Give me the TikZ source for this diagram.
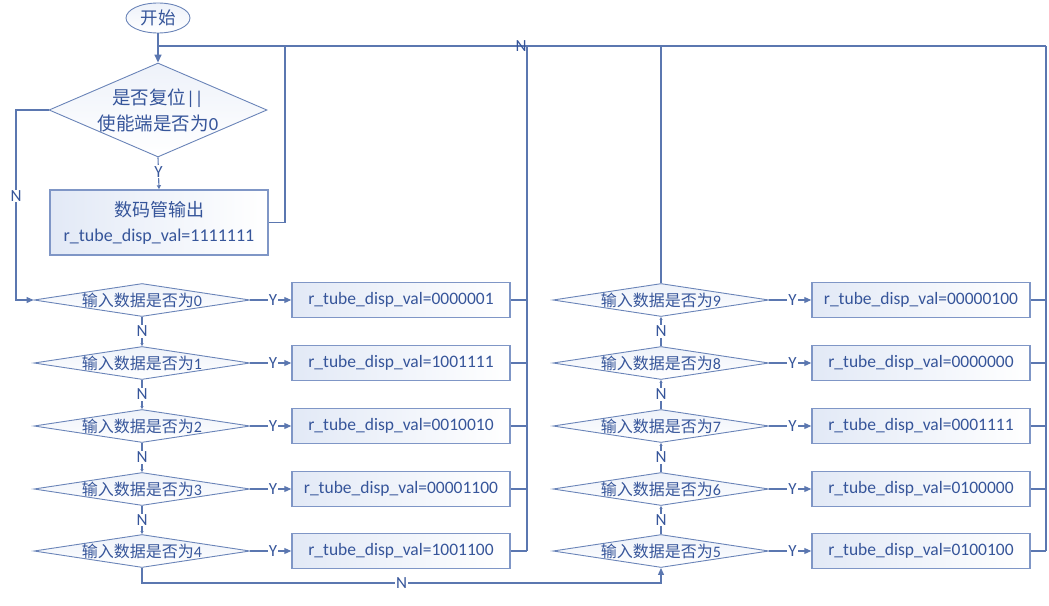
\documentclass[tikz,border=0pt]{standalone}
\usepackage{fontspec}
\setmainfont{Carlito}
\newfontfamily\cjk{Noto Sans CJK SC}
\usetikzlibrary{shapes.geometric,arrows.meta}
\definecolor{lc}{HTML}{5B77B0}
\definecolor{tc}{HTML}{36559A}
\definecolor{ac}{HTML}{4472C4}
\definecolor{bc}{HTML}{7F96C6}
\definecolor{dc}{HTML}{6A84B8}
\definecolor{fillb}{HTML}{E2E9F6}
\begin{document}
\begin{tikzpicture}[x=1pt,y=-1pt,
  conn/.style={draw=lc, line width=1.1},
  arr/.style={conn, -{Triangle[length=7,width=6]}, draw=lc},
  sarr/.style={conn, -{Triangle[length=3,width=3]}},
  lab/.style={fill=white, text=tc, inner sep=1, font=\fontsize{17}{19}\selectfont},
  sdia/.style={diamond, draw=dc, line width=0.9, minimum width=216, minimum height=33, inner sep=0,
     top color=fillb!60, bottom color=white},
  dtext/.style={text=tc, font=\fontsize{16}{18}\selectfont},
  vbox/.style={draw=bc, line width=1.5, minimum width=218, minimum height=35, inner sep=0,
     left color=fillb, right color=white, text=tc, font=\fontsize{17.5}{21}\selectfont},
]
\useasboundingbox (0,0) rectangle (1049,605);

% start
\node[ellipse, draw=dc, line width=0.9, minimum width=64, minimum height=30, inner sep=0,
  top color=fillb!60, bottom color=white, text=tc, font=\fontsize{17.5}{20}\selectfont]
  (start) at (158,18) {\cjk 开始};

% first decision
\node[diamond, draw=dc, line width=0.9, minimum width=218, minimum height=94, inner sep=0,
  top color=fillb!60, bottom color=white,
  label={[text=tc, align=center, font=\fontsize{18.5}{26}\selectfont]center:{{\cjk 是否复位}||\\{\cjk 使能端是否为}0}}]
  (d0) at (158,110) {};

\node[vbox, minimum height=65, align=center, font=\fontsize{18}{25}\selectfont] (b0) at (159,222.5)
  {{\cjk 数码管输出}\\r\_tube\_disp\_val=1111111};

\coordinate (ltop) at (285,46);
\coordinate (mtop) at (527,46);
\coordinate (rtop) at (1046,46);
\coordinate (jn) at (158,46);
\coordinate (lft) at (16,110);

% left column
\foreach \i/\y/\v in {0/300/0000001,1/363/1001111,2/426/0010010,3/489/00001100,4/551/1001100}{
  \node[sdia, label={[dtext]center:{\cjk 输入数据是否为}\i}] (dL\i) at (142,\y) {};
  \node[vbox] (bL\i) at (401,\y) {r\_tube\_disp\_val=\v};
}
% right column
\foreach \i/\y/\v in {9/300/00000100,8/363/0000000,7/426/0001111,6/489/0100000,5/551/0100100}{
  \node[sdia, label={[dtext]center:{\cjk 输入数据是否为}\i}] (dR\i) at (661,\y) {};
  \node[vbox] (bR\i) at (921,\y) {r\_tube\_disp\_val=\v};
}

% top part
\draw[conn, line width=1.5, -{Triangle[length=8,width=7]}, draw=lc] (start) -- (d0.north);
\draw[conn, line width=1.4] (rtop) -- (jn);
\draw[sarr, -{Triangle[length=4,width=4]}] (d0.south) -- node[lab, pos=0.45]{Y} (b0.north);
\draw[conn] (b0.east) -| (ltop);
\draw[arr] (d0.west) -| (lft |- dL0.west) -- (dL0.west);
\node[lab] (nl) at (16,196) {N};

% Y branches
\foreach \i in {0,1,2,3,4}{
  \draw[arr] (dL\i.east) -- node[lab, pos=0.55]{Y} (bL\i.west);
  \draw[conn] (bL\i.east) -- (bL\i.east -| mtop);
}
\foreach \i in {5,6,7,8,9}{
  \draw[arr] (dR\i.east) -- node[lab, pos=0.55]{Y} (bR\i.west);
  \draw[conn] (bR\i.east) -- (bR\i.east -| rtop);
}
\draw[conn, line width=1.6] (bL4.east -| mtop) -- (mtop);
\draw[conn, line width=1.4] (bR5.east -| rtop) -- (rtop);
\node[lab, fill=none] (ntop) at (521,46) {N};

% N chains
\foreach \a/\b in {0/1,1/2,2/3,3/4}{
  \draw[sarr] (dL\a.south) -- node[lab]{N} (dL\b.north);
}
\foreach \a/\b in {5/6,6/7,7/8,8/9}{
  \draw[sarr] (dR\a.north) -- node[lab]{N} (dR\b.south);
}
\coordinate (bl) at (142,583);
\coordinate (br) at (661,583);
\draw[arr] (dL4.south) -- (bl) -- node[lab]{N} (br) -- (dR5.south);
\draw[conn] (dR9.north) -- (dR9.north |- rtop);
\end{tikzpicture}
\end{document}
